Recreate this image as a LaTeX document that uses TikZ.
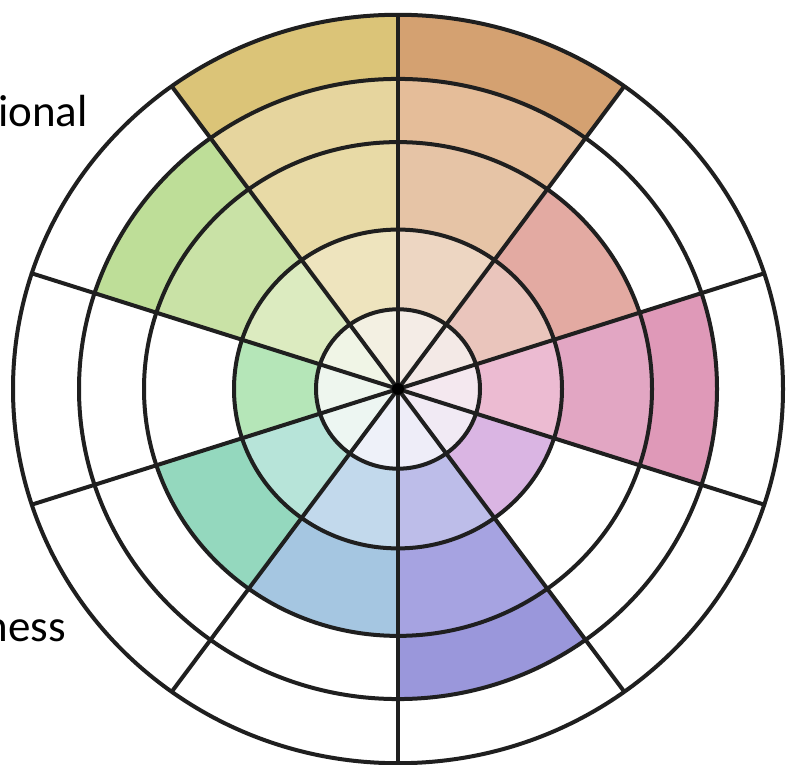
\documentclass[tikz,border=0pt]{standalone}
\usepackage{fontspec}
\setmainfont{Carlito}
\begin{document}
\begin{tikzpicture}[x=1pt,y=1pt,
  ringline/.style={line width=4pt,draw=black!88},
  lbl/.style={font=\fontsize{45}{52}\selectfont,text=black,inner sep=0pt}]
\useasboundingbox (0,0) rectangle (792,765);
\fill[white] (0,0) rectangle (792,765);
% annular sector: #1 hex colour, #2 start angle, #3 end angle, #4 inner r, #5 outer r
\newcommand{\sect}[5]{\definecolor{tmpc}{HTML}{#1}\fill[tmpc] (#2:#4) -- (#2:#5) arc[start angle=#2,end angle=#3,radius=#5] -- (#3:#4) arc[start angle=#3,end angle=#2,radius=#4] -- cycle;}
\begin{scope}[shift={(398,376)},yscale=0.972]
% sector A 90..126
\sect{F3F0E2}{90}{126}{0}{82}
\sect{EEE4BE}{90}{126}{82}{164}
\sect{E8DAA6}{90}{126}{164}{254}
\sect{E6D59E}{90}{126}{254}{319}
\sect{DBC478}{90}{126}{319}{385}
% sector B 54..90
\sect{F4ECE6}{54}{90}{0}{82}
\sect{EDD6C2}{54}{90}{82}{164}
\sect{E6C4A6}{54}{90}{164}{254}
\sect{E5BD99}{54}{90}{254}{319}
\sect{D4A171}{54}{90}{319}{385}
% sector C 18..54
\sect{F3E9E6}{18}{54}{0}{82}
\sect{EAC5BC}{18}{54}{82}{164}
\sect{E3AAA2}{18}{54}{164}{254}
% sector D -18..18
\sect{F4E8EF}{-18}{18}{0}{82}
\sect{ECBBD2}{-18}{18}{82}{164}
\sect{E2A6C3}{-18}{18}{164}{254}
\sect{DF99B8}{-18}{18}{254}{319}
% sector E -54..-18
\sect{F1EAF4}{-54}{-18}{0}{82}
\sect{DAB5E3}{-54}{-18}{82}{164}
% sector F -90..-54
\sect{EEEDF8}{-90}{-54}{0}{82}
\sect{BDBDE9}{-90}{-54}{82}{164}
\sect{A6A3E1}{-90}{-54}{164}{254}
\sect{9A97DB}{-90}{-54}{254}{319}
% sector G -126..-90
\sect{EEF1F9}{-126}{-90}{0}{82}
\sect{C2D9EC}{-126}{-90}{82}{164}
\sect{A5C6E1}{-126}{-90}{164}{254}
% sector H -162..-126
\sect{EDF6F2}{-162}{-126}{0}{82}
\sect{B7E4D9}{-162}{-126}{82}{164}
\sect{94D8BE}{-162}{-126}{164}{254}
% sector I 162..198
\sect{EEF6EE}{162}{198}{0}{82}
\sect{B5E6B8}{162}{198}{82}{164}
% sector J 126..162
\sect{F0F5E6}{126}{162}{0}{82}
\sect{DCEBC0}{126}{162}{82}{164}
\sect{C9E2A6}{126}{162}{164}{254}
\sect{BEDE98}{126}{162}{254}{319}
% rings
\foreach \r in {82,164,254,319,385} \draw[ringline] (0,0) circle[radius=\r];
% spokes
\foreach \a in {90,54,18,-18,-54,-90,-126,-162,162,126} \draw[ringline] (0,0) -- (\a:385);
\coordinate (c) at (0,0);
\fill[black] (c) circle[radius=6];
\end{scope}
\node[lbl,anchor=base east] (t1) at (88,638) {ional};
\node[lbl,anchor=base east] (t2) at (66,123) {ness};
\end{tikzpicture}
\end{document}
